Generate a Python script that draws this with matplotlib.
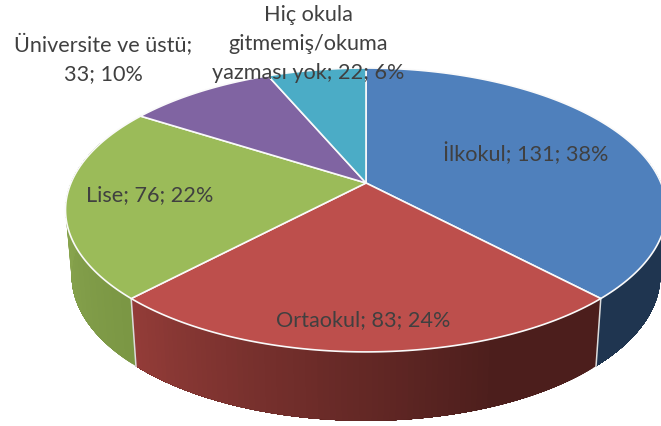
import numpy as np
import matplotlib
matplotlib.use("Agg")
import matplotlib.pyplot as plt
from matplotlib.collections import PolyCollection

plt.rcParams['font.family'] = ['Lato', 'DejaVu Sans']

categories = ["İlkokul", "Ortaokul", "Lise", "Üniversite ve üstü", "Hiç okula\ngitmemiş/okuma\nyazması yok"]
values = [131, 83, 76, 33, 22]
top_colors = ["#4f80bc", "#bd4f4c", "#9bbb59", "#8064a2", "#4bacc6"]

label_text = []
total = sum(values)
for c, v in zip(categories, values):
    label_text.append(f"{c}; {v}; {round(100 * v / total)}%")
label_text[3] = "Üniversite ve üstü;\n33; 10%"

label_xy = [(526, 154), (363, 320), (150, 195), (103, 59), (308, 44)]


def project(theta, cy, a, b, p=0.19, cx=366.0):
    X, Y = np.sin(theta), np.cos(theta)
    d = 1 + p * Y
    return cx + a * X / d, cy - b * Y / d


def top(t):
    return project(t, 184.0, 295.0, 136.8)


def bottom(t):
    return project(t, 249.0, 289.0, 140.0)


def side_color(i, t):
    f = (t - np.pi / 2) / np.pi  # 0 at right, 1 at left
    f = np.clip(f, 0, 1)
    if i == 0:
        return np.array([31, 53, 80]) / 255
    if i == 1:
        g = np.clip((f - 0.38) / 0.38, 0, 1)
        return (np.array([76, 30, 28]) * (1 - g) + np.array([152, 62, 58]) * g) / 255
    if i == 2:
        g = np.clip(abs(f - 0.95) / 0.25, 0, 1)
        return (np.array([136, 164, 78]) * (1 - g) + np.array([120, 148, 66]) * g) / 255
    return np.array(matplotlib.colors.to_rgb(top_colors[i])) * 0.6


fig = plt.figure(figsize=(6.61, 4.27), dpi=100)
ax = fig.add_axes([0, 0, 1, 1])
ax.set_xlim(0, 661)
ax.set_ylim(427, 0)
ax.axis("off")

edges = np.concatenate([[0], np.cumsum(values)]) / total * 2 * np.pi

# side wall: each slice is painted as overlapping strips so no seams show
for i in range(3):
    lo, hi = edges[i], edges[i + 1]
    if i == 2:
        hi = min(hi, 1.6 * np.pi)
    lo = max(lo, 0.4 * np.pi)
    n = max(int((hi - lo) * 60), 2)
    ts = np.linspace(lo, hi, n + 1)
    polys, cols = [], []
    for t0 in ts[:-1]:
        arc = np.linspace(t0, hi, 40)
        xt, yt = top(arc)
        xb, yb = bottom(arc)
        polys.append(np.c_[np.r_[xt, xb[::-1]], np.r_[yt, yb[::-1]]])
        cols.append(side_color(i, t0))
    ax.add_collection(PolyCollection(polys, facecolors=cols, edgecolors="none", zorder=1 + i * 0.01))

# seams on the side wall
for e in (edges[1], edges[2]):
    x0, y0 = top(e); x1, y1 = bottom(e)
    ax.plot([x0, x1], [y0, y1], color="#dcdcdc", lw=1.1, zorder=2)

# top face
cx0, cy0 = 366.0, 184.0
for i in range(len(values)):
    ts = np.linspace(edges[i], edges[i + 1], 200)
    x, y = top(ts)
    ax.fill(np.r_[cx0, x], np.r_[cy0, y], facecolor=top_colors[i],
            edgecolor="#fafafa", lw=1.2, zorder=3, joinstyle="round")

for (x, y), s, in zip(label_xy, label_text):
    ax.text(x, y, s, ha="center", va="center", fontsize=15.6, color="#404040",
            linespacing=1.55, zorder=5)

fig.savefig("out.png", dpi=100)
